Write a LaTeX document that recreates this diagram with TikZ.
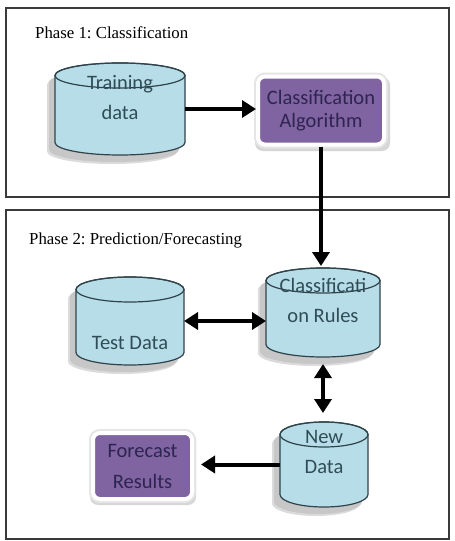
\documentclass[tikz,border=0pt]{standalone}
\usepackage{fontspec}
\setmainfont{Liberation Serif}
\newfontfamily\calfont{Carlito}
\usetikzlibrary{arrows.meta}
\frenchspacing
\definecolor{cylfill}{HTML}{B7DEE8}
\definecolor{cylline}{HTML}{2F434B}
\definecolor{cyltext}{HTML}{2F4C58}
\definecolor{purp}{HTML}{8064A2}
\definecolor{purptext}{HTML}{2E2450}
\definecolor{frameline}{HTML}{3A3A3A}
\newcommand\cylshape[5]{% cx, top, bottom, rx, ry
  ({#1-#4},{#2+#5}) -- ({#1-#4},{#3-#5})
  arc[start angle=180,end angle=360,x radius=#4pt,y radius=#5pt]
  -- ({#1+#4},{#2+#5})
  arc[start angle=0,end angle=180,x radius=#4pt,y radius=#5pt] -- cycle}
\newcommand\cylinder[6]{% name, cx, top, bottom, rx, ry
  \fill[black!14] [shift={(-8,9)}] \cylshape{#2}{#3}{#4}{#5}{#6};
  \fill[black!22] [shift={(-6,7)}] \cylshape{#2}{#3}{#4}{#5}{#6};
  \filldraw[fill=cylfill, draw=cylline, line width=1.2pt] \cylshape{#2}{#3}{#4}{#5}{#6};
  \draw[draw=cylline, line width=1.2pt] ({#2},{#3+#6}) ellipse[x radius=#5pt, y radius=#6pt];
  \node[hold, minimum width={2*#5*1pt}, minimum height={(#4-#3)*1pt}] (#1) at ({#2},{(#3+#4)/2}) {};
}
\begin{document}
\begin{tikzpicture}[x=1pt,y=-1pt,
  hold/.style={inner sep=0pt, outer sep=0pt, draw=none},
  phasebox/.style={hold, draw=frameline, line width=1.5pt},
  phaselabel/.style={anchor=west, inner sep=0pt, font=\fontsize{16.8}{20}\selectfont},
  cyltxt/.style={inner sep=0pt, align=center, text=cyltext, font=\calfont\fontsize{20.5}{30}\selectfont},
  purpbox/.style={inner sep=0pt, fill=purp, draw=white, line width=4pt, rounded corners=7pt,
    preaction={draw=black!10, line width=8pt, rounded corners=7pt},
    align=center, text=purptext, font=\calfont\fontsize{20.5}{23}\selectfont},
  boxshadow/.style={fill=black!16, rounded corners=8pt},
  flow/.style={line width=4pt, -{Triangle[length=14pt,width=17pt]}},
  both/.style={line width=4pt, {Triangle[length=14pt,width=17pt]}-{Triangle[length=14pt,width=17pt]}}
]
\useasboundingbox[fill=white] (0,0) rectangle (455,541);
% phase frames
\node[phasebox, minimum width=443pt, minimum height=189pt] (ph1) at (227.5,102.5) {};
\node[phasebox, minimum width=443pt, minimum height=329pt] (ph2) at (227.5,374.5) {};
\node[phaselabel] (ph1l) at (35,33) {Phase 1: Classification};
\node[phaselabel] (ph2l) at (29,240) {Phase 2: Prediction/Forecasting};
% cylinders
\cylinder{td}{120}{63}{155}{65}{12.5}
\cylinder{cr}{323}{268}{357}{57}{12.5}
\cylinder{tst}{130}{277}{365}{54}{12.5}
\cylinder{nd}{324}{422}{507}{44}{12.5}
\node[cyltxt] (tdt) at (120,98) {Training\\data};
\node[cyltxt] (crt) at (323,300) {Classificati\\on Rules};
\node[cyltxt] (tstt) at (130,343) {Test Data};
\node[cyltxt] (ndt) at (324,452) {New\\Data};
% purple boxes
\fill[boxshadow] (255,77) rectangle (390,151);
\node[purpbox, minimum width=126pt, minimum height=68pt] (ca) at (321,110.5) {Classification\\Algorithm};
\fill[boxshadow] (90,432) rectangle (196,505);
\node[purpbox, minimum width=99pt, minimum height=66pt, font=\calfont\fontsize{20.5}{31}\selectfont] (fr) at (142.5,466) {Forecast\\Results};
% connectors
\draw[flow] (td.east) -- (td.east -| ca.west);
\draw[flow, shorten >=2pt] (ca.south) -- (ca.south |- cr.north);
\draw[both] (tst.east) -- (tst.east -| cr.west);
\draw[both, shorten <=7pt, shorten >=9pt] (cr.south) -- (cr.south |- nd.north);
\draw[flow, shorten >=7pt] (nd.west) -- (nd.west -| fr.east);
\end{tikzpicture}
\end{document}
